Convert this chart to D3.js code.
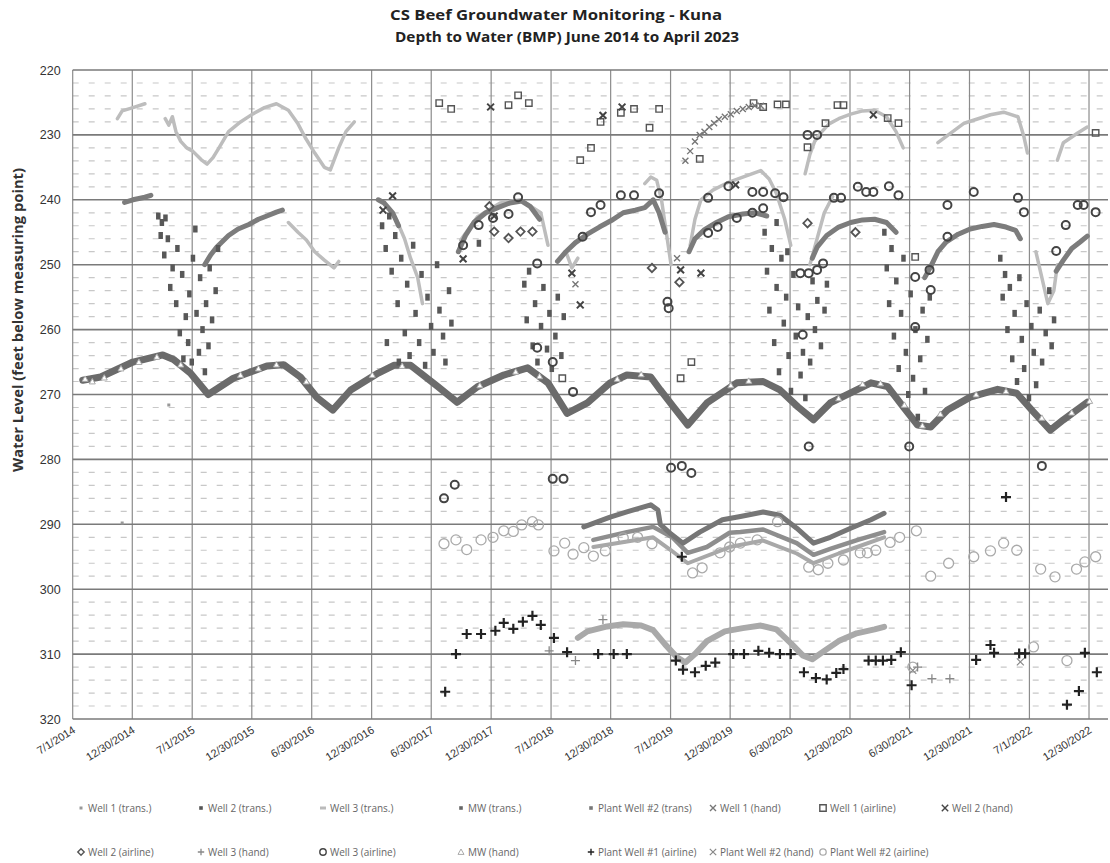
<!DOCTYPE html>
<html>
<head>
<meta charset="utf-8">
<script src="https://cdn.jsdelivr.net/npm/d3@7"></script>
<style>
  body { margin: 0; background: #fff; }
  svg { display: block; font-family: "Open Sans", "Liberation Sans", sans-serif; }
</style>
</head>
<body>
<div id="chart"></div>
<script>
/* values, [decimal year, feet below MP]; null breaks a trace */
const tickLabels = ["7/1/2014", "12/30/2014", "7/1/2015", "12/30/2015", "6/30/2016", "12/30/2016",
    "6/30/2017", "12/30/2017", "7/1/2018", "12/30/2018", "7/1/2019", "12/30/2019", "6/30/2020",
    "12/30/2020", "6/30/2021", "12/30/2021", "7/1/2022", "12/30/2022"];
const depthTicks = [220, 230, 240, 250, 260, 270, 280, 290, 300, 310, 320];

const mwTrans = [[2014.58,267.8],[2014.73,267.3],[2015.0,265.0],[2015.25,263.9],[2015.34,264.6],[2015.48,266.7],
    [2015.63,270.0],[2015.84,267.5],[2016.12,265.6],[2016.26,265.4],[2016.40,267.3],[2016.54,270.5],[2016.67,272.4],
    [2016.82,269.3],[2017.05,266.7],[2017.18,265.5],[2017.32,265.5],[2017.55,268.8],[2017.71,271.2],[2017.88,268.8],
    [2018.10,267.0],[2018.30,265.9],[2018.47,268.2],[2018.63,272.9],[2018.80,271.3],[2018.99,268.2],[2019.13,267.0],
    [2019.33,267.3],[2019.41,269.3],[2019.52,271.9],[2019.64,274.7],[2019.80,271.3],[2020.05,268.2],[2020.27,268.0],
    [2020.41,269.3],[2020.56,271.9],[2020.69,273.9],[2020.83,271.3],[2021.17,268.2],[2021.31,268.8],[2021.44,271.9],
    [2021.56,274.7],[2021.67,275.0],[2021.81,272.4],[2022.0,270.4],[2022.23,269.2],[2022.39,269.8],[2022.53,272.7],
    [2022.67,275.5],[2022.78,273.9],[2022.98,271.2]];

const mwHand = [[2014.60,267.6],[2014.66,268.0],[2014.76,267.4],[2014.90,266.0],[2015.05,265.0],[2015.20,264.2],
    [2015.40,265.4],[2015.90,267.0],[2016.05,266.0],[2016.20,265.4],[2016.45,268.0],[2017.00,267.0],[2017.25,265.6],
    [2017.90,268.6],[2018.20,266.5],[2018.40,267.2],[2019.05,267.6],[2019.25,266.9],[2020.00,268.6],[2020.15,267.9],
    [2020.90,270.6],[2021.10,268.4],[2021.25,268.3],[2021.45,271.6],[2021.60,274.8],[2021.75,273.0],[2022.05,270.0],
    [2022.30,269.5],[2022.60,273.6],[2022.85,272.8],[2023.00,271.0]];

const well1Trans = [[2014.93,240.4],[2015.0,240.0],[2015.1,239.6],[2015.15,239.3],null,
    [2015.6,250.0],[2015.65,248.5],[2015.7,247.3],[2015.8,245.5],[2015.88,244.5],[2015.97,243.8],[2016.05,243.0],
    [2016.12,242.5],[2016.2,241.9],[2016.25,241.6],null,
    [2017.05,240.0],[2017.1,240.5],[2017.17,242.0],[2017.22,244.0],null,
    [2017.72,248.0],[2017.78,245.5],[2017.85,243.5],[2017.95,242.0],[2018.05,241.2],[2018.15,240.5],[2018.25,240.2],
    [2018.32,241.0],[2018.4,243.0],null,
    [2018.55,249.5],[2018.62,248.0],[2018.7,246.6],[2018.8,245.3],[2018.9,244.2],[2019.0,243.2],[2019.1,242.0],
    [2019.2,241.6],[2019.28,241.2],[2019.35,240.0],[2019.4,242.0],[2019.45,245.0],null,
    [2019.65,248.0],[2019.7,246.0],[2019.78,244.6],[2019.88,243.5],[2019.98,242.6],[2020.1,242.2],[2020.2,242.0],
    [2020.3,242.5],null,
    [2020.68,249.0],[2020.72,247.3],[2020.8,245.5],[2020.9,244.2],[2021.0,243.5],[2021.1,243.1],[2021.2,243.0],
    [2021.3,243.5],[2021.38,245.0],null,
    [2021.62,252.0],[2021.67,250.3],[2021.73,248.0],[2021.8,246.5],[2021.9,245.3],[2022.0,244.5],[2022.1,244.1],
    [2022.2,243.8],[2022.3,244.2],[2022.38,244.7],[2022.42,246.0],null,
    [2022.72,251.0],[2022.78,249.3],[2022.85,247.5],[2022.92,246.5],[2022.98,245.6]];

const well2Trans = [
    [2015.21,242.5],[2015.24,243.5],[2015.27,242.8],[2015.23,245.5],[2015.29,246.0],[2015.26,248.5],[2015.33,250.5],
    [2015.37,247.5],[2015.31,253.5],[2015.36,256.0],[2015.41,251.5],[2015.44,258.0],[2015.39,260.5],[2015.47,254.5],
    [2015.50,249.0],[2015.46,262.0],[2015.53,257.5],[2015.49,265.0],[2015.56,252.0],[2015.58,260.0],[2015.55,263.5],
    [2015.61,256.0],[2015.60,266.5],[2015.64,250.5],[2015.66,258.5],[2015.63,262.5],[2015.69,254.0],[2015.71,247.5],
    [2015.52,244.5],[2015.42,264.5],
    [2017.08,244.0],[2017.11,247.5],[2017.14,242.5],[2017.16,251.0],[2017.19,245.5],[2017.21,256.0],[2017.24,249.0],
    [2017.27,260.5],[2017.29,253.0],[2017.31,264.0],[2017.34,247.0],[2017.36,257.5],[2017.39,262.0],[2017.41,251.5],
    [2017.44,265.5],[2017.46,255.0],[2017.49,259.5],[2017.51,263.5],[2017.54,250.0],[2017.56,257.0],[2017.59,261.0],
    [2017.61,265.0],[2017.64,254.0],[2017.66,259.0],[2017.12,262.0],[2017.22,265.0],[2017.89,246.7],
    [2018.27,253.0],[2018.29,258.5],[2018.31,251.0],[2018.34,262.5],[2018.36,256.0],[2018.38,265.0],[2018.41,259.5],
    [2018.43,253.5],[2018.46,263.0],[2018.48,257.5],[2018.50,266.0],[2018.53,261.0],[2018.55,255.0],[2018.58,264.0],
    [2018.60,258.0],
    [2020.28,245.0],[2020.30,251.0],[2020.32,257.0],[2020.34,247.5],[2020.36,262.0],[2020.38,253.5],[2020.40,266.5],
    [2020.42,249.0],[2020.44,259.0],[2020.46,255.0],[2020.48,264.0],[2020.50,269.5],[2020.52,251.5],[2020.54,261.0],
    [2020.56,256.5],[2020.58,267.0],[2020.60,263.5],[2020.62,270.5],[2020.64,258.0],[2020.66,265.0],[2020.68,252.5],
    [2020.70,260.0],[2020.72,255.5],[2020.75,262.5],[2020.78,257.0],[2020.80,253.0],[2020.38,243.5],[2020.47,248.0],
    [2021.28,245.0],[2021.30,250.5],[2021.32,256.0],[2021.34,247.5],[2021.36,261.0],[2021.38,252.5],[2021.40,266.0],
    [2021.42,257.5],[2021.44,249.0],[2021.46,263.5],[2021.48,270.0],[2021.50,254.5],[2021.52,267.5],[2021.54,260.0],
    [2021.56,273.5],[2021.58,264.5],[2021.60,257.0],[2021.62,269.5],[2021.64,261.5],[2021.66,255.0],
    [2022.25,249.0],[2022.27,255.0],[2022.29,251.5],[2022.31,260.0],[2022.33,253.5],[2022.35,264.5],[2022.37,257.5],
    [2022.39,268.0],[2022.41,252.0],[2022.43,261.5],[2022.45,266.0],[2022.47,256.0],[2022.49,270.5],[2022.51,259.5],
    [2022.53,263.5],[2022.55,268.5],[2022.58,257.0],[2022.60,265.0],[2022.63,260.5],[2022.66,254.0],[2022.68,262.5],
    [2022.70,258.5]];

const well3Trans = [[2014.87,227.5],[2014.91,226.3],[2015.0,225.8],[2015.1,225.2],null,
    [2015.27,227.5],[2015.3,228.5],[2015.33,227.2],[2015.36,229.5],[2015.4,231.0],[2015.45,232.0],[2015.5,232.5],
    [2015.57,233.8],[2015.62,234.5],[2015.67,233.5],[2015.72,232.0],[2015.8,229.5],[2015.9,228.0],[2016.0,226.8],
    [2016.1,225.8],[2016.2,225.2],[2016.3,226.2],[2016.38,228.3],[2016.44,230.4],[2016.52,232.8],[2016.6,235.0],
    [2016.65,235.4],[2016.72,232.0],[2016.78,229.5],[2016.85,228.0],null,
    [2016.3,243.5],[2016.38,245.0],[2016.45,246.2],[2016.52,248.0],[2016.6,249.3],[2016.68,250.5],[2016.72,249.5],null,
    [2017.12,241.0],[2017.2,243.0],[2017.27,246.0],[2017.32,249.0],[2017.38,252.0],[2017.42,256.0],null,
    [2017.74,246.2],[2017.88,242.6],[2018.07,240.5],[2018.24,240.0],[2018.41,242.0],[2018.47,247.0],null,
    [2018.62,248.0],[2018.67,250.5],[2018.72,249.0],null,
    [2019.28,237.5],[2019.33,236.5],[2019.38,237.0],[2019.42,240.0],[2019.46,245.0],[2019.5,250.0],null,
    [2019.66,247.0],[2019.7,243.0],[2019.75,240.0],[2019.85,238.5],[2019.98,237.3],[2020.1,236.5],[2020.25,235.5],
    [2020.32,236.8],[2020.38,239.0],[2020.45,243.0],[2020.5,247.0],null,
    [2020.66,250.0],[2020.72,246.0],[2020.78,242.0],[2020.85,239.5],null,
    [2020.62,236.0],[2020.66,233.0],[2020.7,231.0],[2020.76,229.5],[2020.82,228.3],[2020.9,227.5],[2021.0,226.8],
    [2021.1,226.3],[2021.2,226.2],[2021.3,227.2],[2021.38,229.5],[2021.44,232.0],null,
    [2021.73,231.2],[2021.95,228.2],[2022.17,226.9],[2022.28,226.5],[2022.4,227.2],[2022.45,230.3],[2022.48,232.8],null,
    [2022.55,248.0],[2022.6,252.0],[2022.65,256.0],[2022.7,254.0],[2022.73,250.0],null,
    [2022.73,233.9],[2022.78,231.2],[2022.9,229.7],[2022.98,228.8]];

const plantTransA = [[2018.77,290.4],[2018.99,288.9],[2019.13,288.1],[2019.33,287.0],[2019.39,287.8],[2019.41,290.0],
    [2019.5,291.5],[2019.6,292.9],[2019.74,291.2],[2019.93,289.3],[2020.08,288.8],[2020.27,288.1],[2020.41,288.6],
    [2020.55,290.6],[2020.69,292.9],[2020.83,292.0],[2021.0,290.6],[2021.17,289.3],[2021.28,288.3]];
const plantTransB = [[2018.85,292.4],[2019.13,291.2],[2019.35,290.4],[2019.51,292.0],[2019.64,294.4],[2019.8,293.5],
    [2019.99,291.3],[2020.08,291.2],[2020.27,290.8],[2020.55,292.9],[2020.69,294.7],[2020.83,293.8],[2021.06,292.4],
    [2021.28,291.2]];
const plantTransC = [[2018.85,293.5],[2019.35,292.0],[2019.5,294.0],[2019.64,296.0],[2019.99,293.5],[2020.27,292.5],
    [2020.55,294.5],[2020.69,296.0],[2020.9,294.5],[2021.28,292.0]];
const plantTransD = [[2018.72,307.5],[2018.8,306.5],[2018.95,305.8],[2019.1,305.4],[2019.25,305.6],[2019.35,306.3],
    [2019.45,308.5],[2019.55,310.5],[2019.62,311.3],[2019.7,310.0],[2019.8,308.0],[2019.95,306.5],[2020.1,306.0],
    [2020.25,305.6],[2020.38,306.2],[2020.5,308.3],[2020.6,310.2],[2020.68,310.8],[2020.78,309.5],[2020.9,308.0],
    [2021.05,306.8],[2021.2,306.2],[2021.28,305.8]];

const well1TransDots = [[2015.30,271.6],[2014.91,289.8]];

const well1Airline = [[2017.56,225.1],[2017.66,226.0],[2018.14,225.4],[2018.22,223.9],[2018.31,225.1],[2018.74,233.9],
    [2018.83,232.0],[2018.91,228.0],[2019.08,226.6],[2019.19,226.0],[2019.32,228.9],[2019.40,226.0],[2019.74,233.7],
    [2020.19,225.1],[2020.27,225.7],[2020.39,225.3],[2020.46,225.3],[2020.64,231.9],[2020.79,228.2],[2020.89,225.4],
    [2020.94,225.4],[2021.31,227.4],[2021.40,228.2],[2021.54,248.8],[2018.59,267.5],[2019.58,267.5],[2019.67,265.0],
    [2023.05,229.7]];
const well1Hand = [[2019.62,234.0],[2019.66,232.5],[2019.70,231.0],[2019.74,230.0],[2019.78,229.5],[2019.82,228.8],
    [2019.86,228.2],[2019.90,227.6],[2019.95,227.2],[2020.00,226.8],[2020.05,226.3],[2020.10,226.0],[2020.15,225.7],
    [2020.20,225.5],[2020.25,225.5],[2018.70,253.0],[2019.55,249.0]];
const well2Hand = [[2017.09,241.6],[2017.17,239.4],[2017.99,225.7],[2017.76,249.1],[2018.02,242.5],[2018.67,251.3],
    [2018.74,256.2],[2018.93,227.0],[2019.09,225.7],[2019.58,250.8],[2019.75,251.3],[2020.04,237.7],[2021.19,226.9]];
const well2Airline = [[2017.98,241.0],[2018.02,244.9],[2018.14,245.9],[2018.24,244.9],[2018.34,244.9],[2019.34,250.5],
    [2019.57,252.7],[2020.64,243.6],[2021.04,245.0]];
const well3Hand = [[2018.48,309.5],[2018.70,311.0],[2018.93,304.7],[2021.56,312.0],[2021.68,313.8],[2021.83,313.8]];
const well3Airline = [[2017.76,247.0],[2017.89,243.9],[2018.01,242.8],[2018.14,242.2],[2018.22,239.6],[2018.38,249.8],
    [2018.83,241.9],[2018.91,240.8],[2018.76,245.7],[2019.08,239.3],[2019.19,239.3],[2019.40,239.0],[2019.47,255.7],
    [2019.48,256.7],[2019.81,239.7],[2019.98,237.9],[2019.81,245.1],[2019.89,244.2],[2020.05,242.8],[2020.18,238.8],
    [2020.27,238.8],[2020.37,239.0],[2020.44,239.6],[2020.18,242.0],[2020.27,241.3],[2020.86,239.7],[2020.92,239.7],
    [2021.06,238.0],[2021.13,238.8],[2021.19,238.8],[2021.32,237.9],[2021.40,239.3],[2021.81,240.8],[2022.03,238.8],
    [2022.40,239.7],[2022.45,241.9],[2022.90,240.8],[2022.95,240.8],[2023.05,241.9],[2022.80,243.9],[2022.72,247.9],
    [2021.81,245.7],[2021.66,250.8],[2021.67,253.9],[2021.54,251.9],[2021.54,259.6],[2020.58,251.3],[2020.65,251.3],
    [2020.77,249.8],[2020.72,250.8],[2020.60,260.8],[2018.38,262.8],[2018.51,265.0],[2018.68,269.6],[2020.64,230.0],
    [2020.72,230.0],[2017.60,286.0],[2017.69,283.9],[2018.51,283.0],[2018.60,283.0],[2019.50,281.3],[2019.59,281.0],
    [2019.67,282.1],[2020.65,278.0],[2021.49,278.0],[2022.60,281.0]];
const plantWell1Airline = [[2017.61,315.8],[2017.70,310.0],[2017.79,306.9],[2017.91,306.9],[2018.03,306.4],
    [2018.10,305.2],[2018.18,306.1],[2018.26,305.0],[2018.34,304.1],[2018.41,305.5],[2018.52,307.5],[2018.63,309.7],
    [2018.89,310.0],[2019.02,310.0],[2019.13,310.0],[2019.54,311.0],[2019.59,295.0],[2019.60,312.4],[2019.70,312.8],
    [2019.79,311.8],[2019.87,311.3],[2020.02,310.0],[2020.11,310.0],[2020.23,309.5],[2020.32,309.8],[2020.41,310.0],
    [2020.50,310.0],[2020.61,312.8],[2020.71,313.7],[2020.80,313.9],[2020.88,312.9],[2020.94,312.3],[2021.15,311.0],
    [2021.21,311.0],[2021.27,311.0],[2021.34,310.9],[2021.42,309.7],[2021.51,314.8],[2022.05,310.9],[2022.17,308.6],
    [2022.20,309.8],[2022.30,285.8],[2022.41,309.9],[2022.46,309.9],[2022.81,317.8],[2022.91,315.7],[2022.96,309.8],
    [2023.06,312.8]];
const plantWell2Hand = [[2021.52,312.5],[2022.42,311.2]];
const plantWell2Airline = [[2017.60,293.0],[2017.70,292.4],[2017.79,293.9],[2017.91,292.4],[2018.01,292.0],
    [2018.10,291.0],[2018.18,291.1],[2018.25,290.1],[2018.34,289.6],[2018.39,290.1],[2018.52,294.1],[2018.61,292.9],
    [2018.68,294.6],[2018.77,293.6],[2018.85,294.9],[2018.95,294.1],[2019.10,292.1],[2019.22,292.0],[2019.34,293.0],
    [2019.68,297.5],[2019.76,296.7],[2019.91,294.4],[2019.99,293.5],[2020.08,292.9],[2020.22,292.4],[2020.39,289.6],
    [2020.65,296.6],[2020.73,297.0],[2020.81,296.0],[2020.94,295.5],[2021.08,294.4],[2021.14,294.4],[2021.21,294.0],
    [2021.33,292.8],[2021.41,292.0],[2021.55,291.0],[2021.67,298.0],[2021.82,296.0],[2022.03,295.0],[2022.17,294.1],
    [2022.28,292.9],[2022.39,294.0],[2022.59,296.9],[2022.71,298.1],[2022.89,296.9],[2022.96,295.8],[2023.05,295.0],
    [2022.53,308.9],[2022.81,311.0],[2021.52,312.0]];

const legendRow1 = ["Well 1 (trans.)", "Well 2 (trans.)", "Well 3 (trans.)", "MW (trans.)", "Plant Well #2 (trans)",
    "Well 1 (hand)", "Well 1 (airline)", "Well 2 (hand)"];
const legendRow2 = ["Well 2 (airline)", "Well 3 (hand)", "Well 3 (airline)", "MW (hand)", "Plant Well #1 (airline)",
    "Plant Well #2 (hand)", "Plant Well #2 (airline)"];

/* decimal year -> Date */
function yd(v) {
    const yr = Math.floor(v);
    const a = new Date(yr, 0, 1).getTime(), b = new Date(yr + 1, 0, 1).getTime();
    return new Date(a + (v - yr) * (b - a));
}

function markerPath(shape, s) {
    switch (shape) {
        case "square": return `M${-s},${-s}H${s}V${s}H${-s}Z`;
        case "diamond": return `M0,${-s}L${s},0L0,${s}L${-s},0Z`;
        case "triangle": return `M0,${-s}L${s},${s * 0.8}L${-s},${s * 0.8}Z`;
        case "plus": return `M${-s},0H${s}M0,${-s}V${s}`;
        case "cross": return `M${-s},${-s}L${s},${s}M${-s},${s}L${s},${-s}`;
        case "circle": return `M${s},0A${s},${s} 0 1,1 ${-s},0A${s},${s} 0 1,1 ${s},0`;
        case "dot": return `M${-s},${-s}H${s}V${s}H${-s}Z`;
        case "dash": return `M${-s},${-s / 2}H${s}V${s / 2}H${-s}Z`;
    }
}

const styles = {
    "Well 1 (trans.)": { shape: "dot", size: 1.5, fill: "#999", stroke: "none", sw: 0 },
    "Well 2 (trans.)": { shape: "dot", size: 1.8, fill: "#555", stroke: "none", sw: 0 },
    "Well 3 (trans.)": { shape: "dash", size: 3, fill: "#bbb", stroke: "none", sw: 0 },
    "MW (trans.)": { shape: "dot", size: 1.8, fill: "#666", stroke: "none", sw: 0 },
    "Plant Well #2 (trans)": { shape: "dot", size: 1.8, fill: "#777", stroke: "none", sw: 0 },
    "Well 1 (hand)": { shape: "cross", size: 3, fill: "none", stroke: "#777", sw: 1.4 },
    "Well 1 (airline)": { shape: "square", size: 3.2, fill: "none", stroke: "#555", sw: 1.4 },
    "Well 2 (hand)": { shape: "cross", size: 3.4, fill: "none", stroke: "#444", sw: 2 },
    "Well 2 (airline)": { shape: "diamond", size: 4.2, fill: "none", stroke: "#555", sw: 1.8 },
    "Well 3 (hand)": { shape: "plus", size: 4.5, fill: "none", stroke: "#888", sw: 1.3 },
    "Well 3 (airline)": { shape: "circle", size: 4, fill: "none", stroke: "#444", sw: 2 },
    "MW (hand)": { shape: "triangle", size: 3, fill: "#fff", stroke: "#aaa", sw: 1 },
    "Plant Well #1 (airline)": { shape: "plus", size: 5, fill: "none", stroke: "#222", sw: 2.2 },
    "Plant Well #2 (hand)": { shape: "cross", size: 3.5, fill: "none", stroke: "#888", sw: 1.2 },
    "Plant Well #2 (airline)": { shape: "circle", size: 5, fill: "none", stroke: "#aaa", sw: 1.3 }
};

const W = 1110, H = 863;
const plot = { left: 72.7, right: 1108, top: 70, bottom: 719 };

const svg = d3.select("#chart").append("svg").attr("width", W).attr("height", H);

const parseDate = d3.timeParse("%m/%d/%Y");
const tickDates = tickLabels.map(parseDate);

const x = d3.scaleTime()
    .domain([new Date(2014, 6, 1), new Date(2023, 1, 26)])
    .range([plot.left, plot.right]);
const y = d3.scaleLinear().domain([220, 320]).range([plot.top, plot.bottom]);

/* minor dashed grid every 2 ft */
svg.append("g").selectAll("line")
    .data(d3.range(222, 320, 2).filter(v => v % 10 !== 0))
    .join("line")
    .attr("x1", plot.left).attr("x2", plot.right)
    .attr("y1", d => y(d)).attr("y2", d => y(d))
    .attr("stroke", "#c8c8c8").attr("stroke-width", 1.2)
    .attr("stroke-dasharray", "6,10");

/* major grid */
svg.append("g").selectAll("line")
    .data(tickDates)
    .join("line")
    .attr("x1", d => x(d)).attr("x2", d => x(d))
    .attr("y1", plot.top).attr("y2", plot.bottom)
    .attr("stroke", "#8c8c8c").attr("stroke-width", 1.2);
svg.append("g").selectAll("line")
    .data(depthTicks)
    .join("line")
    .attr("x1", plot.left).attr("x2", plot.right)
    .attr("y1", d => y(d)).attr("y2", d => y(d))
    .attr("stroke", "#7a7a7a").attr("stroke-width", 1.6);

/* y axis labels */
const yAxis = svg.append("g")
    .attr("transform", `translate(${plot.left - 10},0)`)
    .call(d3.axisLeft(y).tickValues(depthTicks).tickSize(0).tickPadding(2));
yAxis.select(".domain").remove();
yAxis.selectAll("text").attr("font-size", 12.5).attr("fill", "#333");

/* x axis labels, rotated */
const xAxis = svg.append("g")
    .attr("transform", `translate(0,${plot.bottom})`)
    .call(d3.axisBottom(x).tickValues(tickDates).tickFormat(d3.timeFormat("%-m/%-d/%Y")).tickSize(0));
xAxis.select(".domain").remove();
xAxis.selectAll("text")
    .attr("font-size", 11).attr("fill", "#333")
    .attr("text-anchor", "end")
    .attr("transform", "translate(3,13) rotate(-32)")
    .attr("dy", 0).attr("y", 0).attr("x", 0);

svg.append("clipPath").attr("id", "plotclip")
    .append("rect").attr("x", plot.left).attr("y", plot.top - 6)
    .attr("width", plot.right - plot.left).attr("height", plot.bottom - plot.top + 6);
const g = svg.append("g").attr("clip-path", "url(#plotclip)");

const line = d3.line()
    .defined(d => d !== null)
    .x(d => x(yd(d[0])))
    .y(d => y(d[1]));

function trace(data, color, width) {
    g.append("path")
        .datum(data)
        .attr("d", line)
        .attr("fill", "none")
        .attr("stroke", color)
        .attr("stroke-width", width)
        .attr("stroke-linejoin", "round")
        .attr("stroke-linecap", "round");
}

function markers(data, name) {
    const st = styles[name];
    g.append("g").selectAll("path")
        .data(data)
        .join("path")
        .attr("transform", d => `translate(${x(yd(d[0]))},${y(d[1])})`)
        .attr("d", markerPath(st.shape, st.size))
        .attr("fill", st.fill)
        .attr("stroke", st.stroke)
        .attr("stroke-width", st.sw);
}

/* transducer traces */
trace(plantTransD, "#a9a9a9", 6);
trace(plantTransC, "#a8a8a8", 4);
trace(plantTransB, "#8e8e8e", 4.5);
trace(plantTransA, "#767676", 5);
trace(mwTrans, "#6b6b6b", 7);
trace(well3Trans, "#bdbdbd", 3.5);
trace(well1Trans, "#7c7c7c", 5);

/* Well 2 transducer scatter */
g.append("g").selectAll("rect")
    .data(well2Trans)
    .join("rect")
    .attr("x", d => x(yd(d[0])) - 2)
    .attr("y", d => y(d[1]) - 3.5)
    .attr("width", 4.5).attr("height", 7)
    .attr("fill", "#585858");

markers(well1TransDots, "Well 1 (trans.)");
markers(mwHand, "MW (hand)");
markers(plantWell2Airline, "Plant Well #2 (airline)");
markers(well1Airline, "Well 1 (airline)");
markers(well1Hand, "Well 1 (hand)");
markers(well2Hand, "Well 2 (hand)");
markers(well2Airline, "Well 2 (airline)");
markers(well3Airline, "Well 3 (airline)");
markers(well3Hand, "Well 3 (hand)");
markers(plantWell1Airline, "Plant Well #1 (airline)");
markers(plantWell2Hand, "Plant Well #2 (hand)");

/* titles */
svg.append("text")
    .attr("x", 556).attr("y", 20)
    .attr("text-anchor", "middle")
    .attr("font-size", 14.5).attr("font-weight", "bold").attr("fill", "#222")
    .attr("textLength", 332).attr("lengthAdjust", "spacingAndGlyphs")
    .text("CS Beef Groundwater Monitoring - Kuna");
svg.append("text")
    .attr("x", 567).attr("y", 42)
    .attr("text-anchor", "middle")
    .attr("font-size", 14.5).attr("font-weight", "bold").attr("fill", "#222")
    .attr("textLength", 344).attr("lengthAdjust", "spacingAndGlyphs")
    .text("Depth to Water (BMP) June 2014 to April 2023");

svg.append("text")
    .attr("transform", "translate(23,320) rotate(-90)")
    .attr("text-anchor", "middle")
    .attr("font-size", 13.5).attr("font-weight", "bold").attr("fill", "#333")
    .attr("textLength", 304).attr("lengthAdjust", "spacingAndGlyphs")
    .text("Water Level (feet below measuring point)");

/* legend */
const legendCols = [88, 208, 330, 468, 598, 720, 830, 952];
[legendRow1, legendRow2].forEach((row, r) => {
    const ly = r === 0 ? 808 : 852;
    row.forEach((name, i) => {
        const st = styles[name];
        const item = svg.append("g").attr("transform", `translate(${legendCols[i]},${ly})`);
        item.append("path")
            .attr("transform", "translate(-7,0)")
            .attr("d", markerPath(st.shape, Math.min(st.size, 3.2)))
            .attr("fill", st.fill)
            .attr("stroke", st.stroke)
            .attr("stroke-width", Math.min(st.sw, 1.4));
        item.append("text")
            .attr("x", 0).attr("y", 3.5)
            .attr("font-size", 10).attr("fill", "#666")
            .text(name);
    });
});
</script>
</body>
</html>
